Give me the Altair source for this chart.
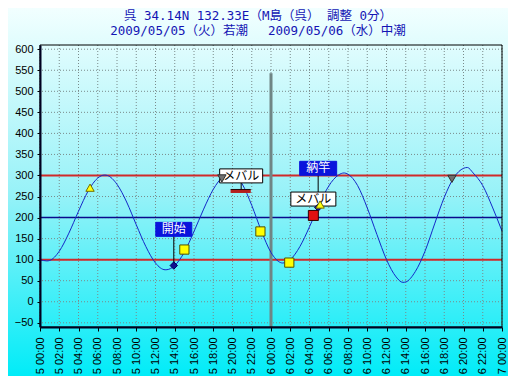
import altair as alt
import pandas as pd

# ---------------- data ----------------
hours = list(range(0, 49))
tide = [100, 98, 120, 163, 215, 263, 294, 300, 279, 237, 183, 131, 92, 76, 86, 118,
        167, 220, 267, 297, 304, 280, 229, 168, 117, 93, 100, 131, 178, 230, 275, 301,
        303, 276, 223, 160, 100, 59, 47, 72, 120, 185, 248, 295, 317, 306, 276, 225, 168]
# high / low water (hours from 5 00:00, cm)
ext_h = [0.7, 6.7, 13.1, 19.8, 25.2, 31.6, 37.7, 44.4]
ext_v = [97, 301, 76, 305, 92, 306, 46, 319]

x_ticks = list(range(0, 49, 2))
x_labels = ["5 00:00", "5 02:00", "5 04:00", "5 06:00", "5 08:00", "5 10:00", "5 12:00",
            "5 14:00", "5 16:00", "5 18:00", "5 20:00", "5 22:00", "6 00:00", "6 02:00",
            "6 04:00", "6 06:00", "6 08:00", "6 10:00", "6 12:00", "6 14:00", "6 16:00",
            "6 18:00", "6 20:00", "6 22:00", "7 00:00"]
y_ticks = list(range(-50, 601, 50))

ref_red = [100, 300]
ref_blue = [200]
day_h = [24]
day_top = [543]

tri_up_h = [5.2, 29.1]
tri_up_v = [271, 231]
tri_dn_h = [18.9, 42.8]
tri_dn_v = [293, 292]
dia_h = [13.9, 28.9]
dia_v = [86, 224]
ysq_h = [15.0, 22.9, 25.9]
ysq_v = [124, 167, 93]
rsq_h = [28.4]
rsq_v = [205]

bar_h1 = [19.8]
bar_h2 = [21.9]
bar_v = [262]

lab_text = ["開始", "メバル", "納竿", "メバル"]
lab_h = [13.9, 20.9, 28.9, 28.4]
lab_v = [172, 299, 317, 244]
con_h = [13.9, 20.9, 28.9]
con_v1 = [172, 299, 317]
con_v2 = [86, 262, 224]

title1 = "呉 34.14N 132.33E（M島（呉） 調整 0分）"
title2 = "2009/05/05（火）若潮　 2009/05/06（水）中潮"

# ---------------- chart ----------------
W, H = 462, 282
XD = [0, 48]
YD = [-60, 610]
xs = alt.Scale(domain=XD, nice=False, zero=False)
ys = alt.Scale(domain=YD, nice=False, zero=False)

label_expr = "[" + ",".join(f"'{s}'" for s in x_labels) + "][round(datum.value/2)]"

x_axis = alt.Axis(values=x_ticks, labelExpr=label_expr, title=None, grid=False,
                  labelAngle=270, labelAlign="right", labelBaseline="middle",
                  labelOverlap=False, labelBound=False, labelFlush=False,
                  tickSize=4, labelPadding=6, labelFont="Liberation Sans",
                  labelFontSize=11, labelColor="#000000", domainColor="#000020",
                  domainWidth=2, tickColor="#000000", zindex=1)
y_axis = alt.Axis(values=y_ticks, title=None, grid=False, tickSize=3,
                  labelOverlap=False, labelBound=False, labelFlush=False,
                  labelPadding=4, labelFont="Liberation Sans", labelFontSize=11,
                  labelColor="#000000", domainColor="#000020", domainWidth=2,
                  tickColor="#000000", zindex=1)


def X(f):
    return alt.X(f, type="quantitative", scale=xs, axis=x_axis)


def Y(f):
    return alt.Y(f, type="quantitative", scale=ys, axis=y_axis)


curve = pd.DataFrame({"h": hours + ext_h, "v": tide + ext_v}).sort_values("h")
one = pd.DataFrame({"a": [0]})

bg = alt.Chart(one).mark_rect(
    fill=alt.LinearGradient(
        gradient="linear",
        stops=[alt.GradientStop(color="#F2FFFF", offset=0),
               alt.GradientStop(color="#98F2F8", offset=0.5),
               alt.GradientStop(color="#00ECF8", offset=1)],
        x1=0, x2=0, y1=0, y2=1),
).encode(x=alt.value(-40), x2=alt.value(W + 8), y=alt.value(-37), y2=alt.value(H + 50))

grid_x = alt.Chart(pd.DataFrame({"h": x_ticks})).mark_rule(
    color="#7A8A8A", strokeDash=[1, 2], strokeWidth=1).encode(x=X("h"))
grid_y = alt.Chart(pd.DataFrame({"v": y_ticks})).mark_rule(
    color="#7A8A8A", strokeDash=[1, 2], strokeWidth=1).encode(y=Y("v"))

frame = alt.Chart(one).mark_rect(fill=None, stroke="#000000", strokeWidth=1).encode(
    x=alt.value(0), x2=alt.value(W), y=alt.value(0), y2=alt.value(H))

red_lines = alt.Chart(pd.DataFrame({"v": ref_red})).mark_rule(
    color="#D02A2A", strokeWidth=2).encode(y=Y("v"))
blue_lines = alt.Chart(pd.DataFrame({"v": ref_blue})).mark_rule(
    color="#0A0A8C", strokeWidth=1.6).encode(y=Y("v"))

day_line = alt.Chart(pd.DataFrame({"h": day_h, "top": day_top})).mark_rule(
    color="#6F8585", strokeWidth=3
).encode(x=X("h"), y=Y("top"), y2=alt.value(H))

tide_line = alt.Chart(curve).mark_line(
    color="#1428C8", strokeWidth=1, interpolate="monotone"
).encode(x=X("h"), y=Y("v"))

connectors = alt.Chart(pd.DataFrame({"h": con_h, "v1": con_v1, "v2": con_v2})).mark_rule(
    color="#000000", strokeWidth=1
).encode(x=X("h"), y=Y("v1"), y2="v2:Q")

bar_df = pd.DataFrame({"h1": bar_h1, "h2": bar_h2, "v": bar_v})
bar = alt.Chart(bar_df).mark_rule(color="#B41E1E", strokeWidth=3).encode(
    x=X("h1"), x2="h2:Q", y=Y("v"))
bar_top = alt.Chart(bar_df).mark_rule(color="#200000", strokeWidth=1, yOffset=-2).encode(
    x=X("h1"), x2="h2:Q", y=Y("v"))

labels = pd.DataFrame({"t": lab_text, "h": lab_h, "v": lab_v})
box_widths = [36, 43, 37, 45]
box_layers = []
for i in range(len(lab_text)):
    blue = lab_text[i] in ("開始", "納竿")
    box_layers.append(
        alt.Chart(labels.iloc[[i]]).mark_rect(
            width=box_widths[i], height=14,
            fill="#0A14DC" if blue else "#FFFFFF",
            stroke="#0A14DC" if blue else "#000000", strokeWidth=1
        ).encode(x=X("h"), y=Y("v"))
    )
    box_layers.append(
        alt.Chart(labels.iloc[[i]]).mark_text(
            font="Noto Sans CJK JP", fontSize=12,
            color="#FFFFFF" if blue else "#000000", baseline="middle", align="center"
        ).encode(x=X("h"), y=Y("v"), text="t:N")
    )


def pts(hh, vv, shape, fill, stroke, size):
    return alt.Chart(pd.DataFrame({"h": hh, "v": vv})).mark_point(
        shape=shape, filled=True, fill=fill, stroke=stroke, strokeWidth=1, size=size, opacity=1
    ).encode(x=X("h"), y=Y("v"))


dia = pts(dia_h, dia_v, "diamond", "#101090", "#000060", 55)
ysq = pts(ysq_h, ysq_v, "square", "#FFFF00", "#505000", 85)
rsq = pts(rsq_h, rsq_v, "square", "#E01010", "#300000", 100)
tup = pts(tri_up_h, tri_up_v, "triangle-up", "#FFFF10", "#707000", 70)
tdn = pts(tri_dn_h, tri_dn_v, "triangle-down", "#707070", "#303030", 70)

TFONT = "DejaVu Sans Mono, Noto Sans CJK JP"
t1 = alt.Chart(pd.DataFrame({"t": [title1]})).mark_text(
    font=TFONT, fontSize=12.5, color="#1414B4", align="center", baseline="middle"
).encode(x=alt.value(218), y=alt.value(-29), text="t:N")
t2 = alt.Chart(pd.DataFrame({"t": [title2]})).mark_text(
    font=TFONT, fontSize=12.5, color="#1414B4", align="center", baseline="middle"
).encode(x=alt.value(218), y=alt.value(-14), text="t:N")

chart = alt.layer(
    bg, grid_x, grid_y, red_lines, blue_lines, day_line, tide_line, connectors,
    bar, bar_top, *box_layers, dia, ysq, rsq, tup, tdn, frame, t1, t2
).properties(
    width=W, height=H, autosize="none",
    padding={"left": 32, "top": 37, "right": 6, "bottom": 49},
    background="#E8FFFF"
).configure_view(stroke=None)

chart.save("out.html", embed_options={"renderer": "svg", "actions": False})
